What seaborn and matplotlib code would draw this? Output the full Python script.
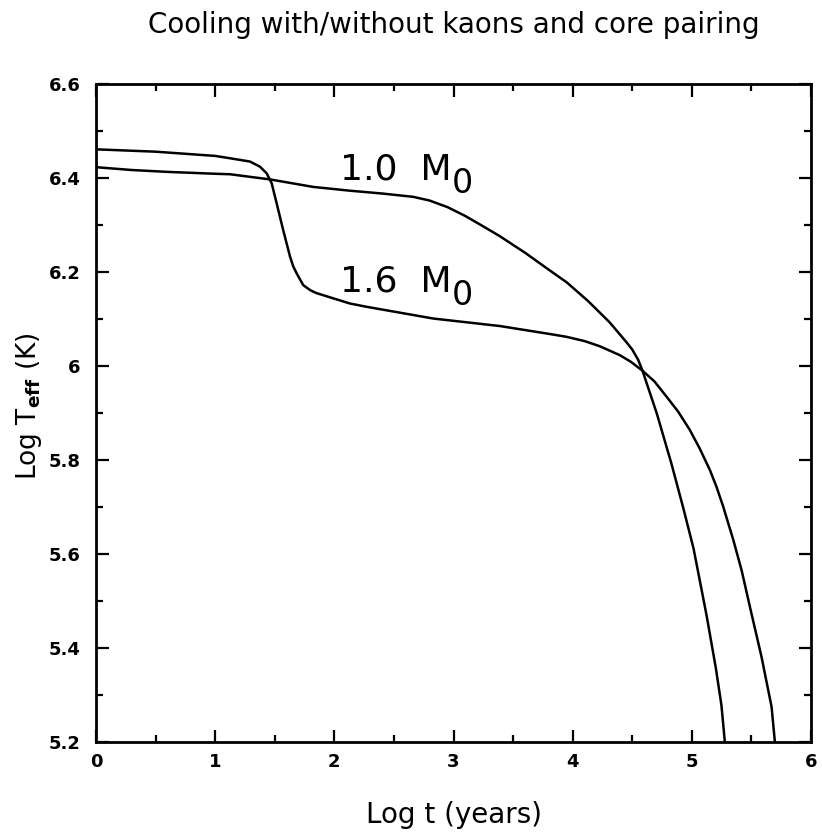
import matplotlib
matplotlib.use("Agg")
import matplotlib.pyplot as plt
import seaborn as sns
import pandas as pd
from matplotlib.ticker import MultipleLocator, FixedLocator

# ---- data ----
logt_10 = [0.0, 0.3, 0.6, 1.0, 1.124, 1.46, 1.823, 2.13, 2.4, 2.66, 2.80, 2.95,
           3.10, 3.25, 3.39, 3.60, 3.81, 3.95, 4.13, 4.31, 4.45, 4.50, 4.55,
           4.586, 4.706, 4.828, 4.926, 5.015, 5.124, 5.201, 5.248, 5.264, 5.277]
logT_10 = [6.423, 6.417, 6.413, 6.409, 6.408, 6.397, 6.381, 6.373, 6.367, 6.360,
           6.352, 6.338, 6.319, 6.297, 6.276, 6.241, 6.203, 6.178, 6.138, 6.093,
           6.051, 6.035, 6.013, 5.990, 5.899, 5.793, 5.700, 5.611, 5.469, 5.358,
           5.279, 5.236, 5.200]

logt_16 = [0.0, 0.5, 1.0, 1.124, 1.292, 1.376, 1.432, 1.474, 1.516, 1.571, 1.628,
           1.655, 1.684, 1.739, 1.80, 1.851, 2.13, 2.27, 2.83, 3.39, 3.81, 3.95,
           4.10, 4.228, 4.396, 4.488, 4.586, 4.687, 4.787, 4.885, 4.983, 5.067,
           5.151, 5.207, 5.263, 5.348, 5.419, 5.487, 5.585, 5.669, 5.697]
logT_16 = [6.461, 6.456, 6.447, 6.442, 6.435, 6.424, 6.410, 6.389, 6.346, 6.289,
           6.233, 6.212, 6.197, 6.172, 6.161, 6.155, 6.133, 6.126, 6.101, 6.085,
           6.068, 6.062, 6.053, 6.042, 6.023, 6.009, 5.990, 5.967, 5.935, 5.903,
           5.864, 5.824, 5.779, 5.743, 5.701, 5.630, 5.564, 5.488, 5.381, 5.275,
           5.200]

x_ticks = [0, 1, 2, 3, 4, 5, 6]
x_ticklabels = ["0", "1", "2", "3", "4", "5", "6"]
y_ticks = [5.2, 5.4, 5.6, 5.8, 6.0, 6.2, 6.4, 6.6]
y_ticklabels = ["5.2", "5.4", "5.6", "5.8", "6", "6.2", "6.4", "6.6"]

df = pd.concat([
    pd.DataFrame({"logt": logt_10, "logT": logT_10, "mass": "1.0"}),
    pd.DataFrame({"logt": logt_16, "logT": logT_16, "mass": "1.6"}),
], ignore_index=True)

sns.set_theme(style="white")
plt.rcParams["font.family"] = ["DejaVu Sans"]

fig = plt.figure(figsize=(8.22, 8.35), dpi=100)
ax = fig.add_axes([96 / 822, 1 - 742 / 835, (811 - 96) / 822, (742 - 84) / 835])

sns.lineplot(data=df, x="logt", y="logT", units="mass", estimator=None,
             sort=False, color="black", linewidth=1.8, ax=ax, legend=False)

ax.set_xlim(0, 6)
ax.set_ylim(5.2, 6.6)
ax.xaxis.set_major_locator(FixedLocator(x_ticks))
ax.set_xticklabels(x_ticklabels)
ax.yaxis.set_major_locator(FixedLocator(y_ticks))
ax.set_yticklabels(y_ticklabels)
ax.xaxis.set_minor_locator(MultipleLocator(0.5))
ax.yaxis.set_minor_locator(MultipleLocator(0.1))
ax.tick_params(which="both", direction="in", top=True, right=True,
               bottom=True, left=True, width=1.6, color="black")
ax.tick_params(which="major", length=9)
ax.tick_params(which="minor", length=5)
ax.tick_params(axis="y", which="major", pad=11, labelsize=13)
ax.tick_params(axis="x", which="major", pad=8, labelsize=13)
for lab in ax.get_xticklabels() + ax.get_yticklabels():
    lab.set_fontweight("bold")
    lab.set_color("black")
for sp in ax.spines.values():
    sp.set_linewidth(2.0)
    sp.set_color("black")
    sp.set_visible(True)
ax.set_xlabel("")
ax.set_ylabel("")

# curve labels
ax.text(2.05, 6.396, "1.0  M", fontsize=26, color="black", va="baseline", ha="left")
ax.text(2.984, 6.368, "0", fontsize=24, color="black", va="baseline", ha="left")
ax.text(2.05, 6.158, "1.6  M", fontsize=26, color="black", va="baseline", ha="left")
ax.text(2.984, 6.130, "0", fontsize=24, color="black", va="baseline", ha="left")

fig.text(0.552, 1 - 33 / 835, "Cooling with/without kaons and core pairing",
         fontsize=20, ha="center", va="baseline", color="black")
fig.text(0.552, 1 - 823 / 835, "Log t (years)", fontsize=20, ha="center",
         va="baseline", color="black")
fig.text(0.035, 0.514, r"Log T$_{\mathbf{eff}}$ (K)", fontsize=19, ha="center",
         va="center", rotation=90, color="black")

fig.savefig("out.png", dpi=100, facecolor="white")
